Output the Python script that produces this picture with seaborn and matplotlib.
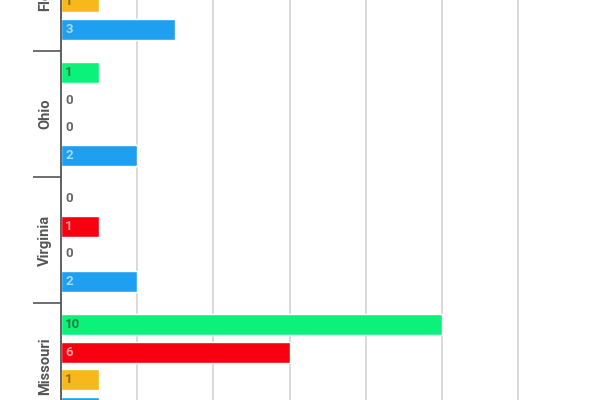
import pandas as pd
import numpy as np
import matplotlib
matplotlib.use("Agg")
import matplotlib.pyplot as plt
import matplotlib.transforms as mtransforms
import seaborn as sns

sns.set_theme(style="white")
plt.rcParams["font.family"] = ["Roboto", "DejaVu Sans"]

# ── Data ──────────────────────────────────────────────────────────────────────
states = ["Florida", "Ohio", "Virginia", "Missouri"]
series = ["Series A", "Series B", "Series C", "Series D"]
# values per series, in state order (Florida A/B are off-frame; estimated)
vals_a = [2, 1, 0, 10]
vals_b = [1, 0, 1, 6]
vals_c = [1, 0, 0, 1]
vals_d = [3, 2, 2, 1]

BAR_COLORS = ["#0af27a", "#f7000f", "#f6b81a", "#1e9ff0"]
LABEL_COLORS = ["#1c7a40", "#f9a3a6", "#8a6a10", "#a8dcfa"]
ZERO_COLOR = "#666666"
AXIS_COLOR = "#555555"

df = pd.DataFrame({
    "state": np.repeat(states, len(series)),
    "series": series * len(states),
    "value": np.ravel(np.column_stack([vals_a, vals_b, vals_c, vals_d])),
})

# ── Plot ──────────────────────────────────────────────────────────────────────
fig = plt.figure(figsize=(6, 4), dpi=100)
ax = fig.add_axes([61 / 600, 0, 539 / 600, 1])

sns.barplot(data=df, y="state", x="value", hue="series", orient="h",
            order=states, hue_order=series, palette=BAR_COLORS,
            width=0.87, gap=0.23, saturation=1, legend=False, ax=ax,
            errorbar=None)

# value labels at the bar start
for cont, lc in zip(ax.containers, LABEL_COLORS):
    for patch in cont:
        v = patch.get_width()
        yc = patch.get_y() + patch.get_height() / 2
        ax.annotate(f"{v:g}", xy=(0, yc), xytext=(3, 0), textcoords="offset points",
                    ha="left", va="center", fontsize=9.5, fontweight="bold",
                    color=lc if v > 0 else ZERO_COLOR)

ax.set_xticks(range(0, 13, 2))
ax.xaxis.grid(True, color="#d8d8d8", lw=1.3)
ax.set_axisbelow(True)
ax.set_xlabel("")
ax.set_ylabel("")
ax.tick_params(axis="x", bottom=False, labelbottom=False)

# group separators as ticks; state names as free text so the cropped one still shows
ax.set_yticks([-0.5, 0.5, 1.5, 2.5, 3.5])
ax.set_yticklabels([])
ax.tick_params(axis="y", length=20, width=1.2, color=AXIS_COLOR, left=True)
trans = mtransforms.blended_transform_factory(ax.transAxes, ax.transData)
off = mtransforms.offset_copy(trans, fig=fig, x=-9, y=0, units="dots")
for i, name in enumerate(states):
    ax.text(0, i, name, transform=off, rotation=90, ha="right", va="center",
            fontsize=10.5, fontweight="semibold", color=AXIS_COLOR, clip_on=False)

# the reference is a cropped view of a taller chart
ax.set_xlim(0, 14.15)
ax.set_ylim(3.27, 0.095)

for side in ["top", "right", "bottom"]:
    ax.spines[side].set_visible(False)
ax.spines["left"].set_color(AXIS_COLOR)
ax.spines["left"].set_linewidth(1.3)

fig.savefig("out.png", dpi=100)
plt.close()
